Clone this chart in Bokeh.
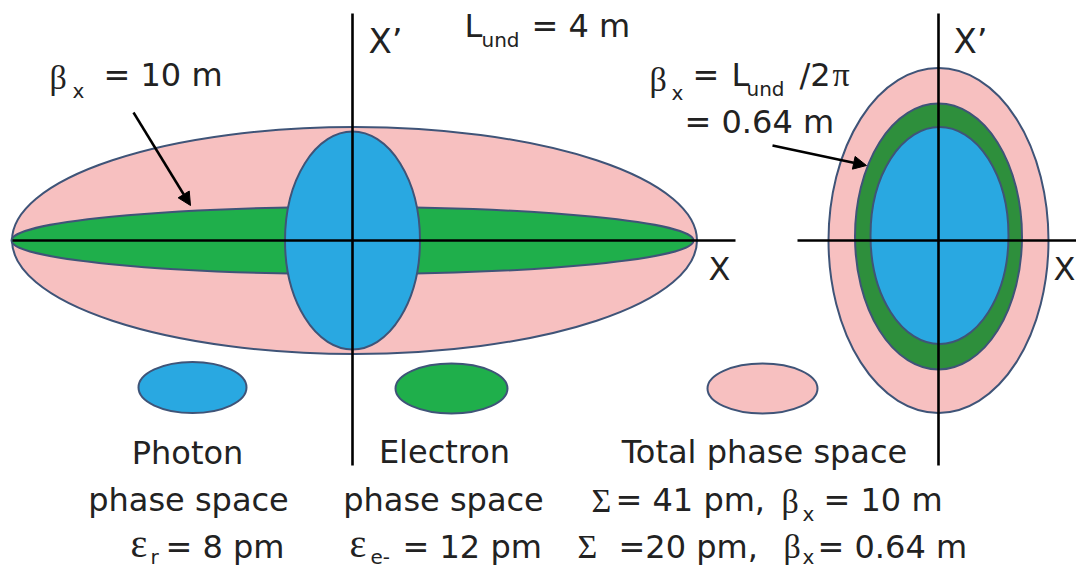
from bokeh.plotting import figure
from bokeh.models import Range1d, Arrow, NormalHead
from bokeh.core.properties import value
from bokeh.embed import file_html
from bokeh.resources import INLINE

H = 575  # reference canvas height (pixel units used as data units)
W_FIG, H_FIG = 1076, 570

# --- phase-space ellipses (reference pixel units) ---
left_names = ["Total phase space", "Electron phase space", "Photon phase space"]
left_cx = [354, 352, 352]
left_cy = [240, 240, 240]
left_w = [685, 682, 135]
left_h = [227, 67, 218]
left_colors = ["#f7c0c0", "#1faf4b", "#29a8e1"]

right_names = ["Total phase space", "Electron phase space", "Photon phase space"]
right_cx = [938, 938, 939]
right_cy = [240, 236, 235]
right_w = [220, 167, 138]
right_h = [345, 266, 217]
right_colors = ["#f7c0c0", "#2e8f3c", "#29a8e1"]

key_names = ["Photon", "Electron", "Total"]
key_cx = [192, 451, 762]
key_cy = [387, 388, 388]
key_w = [108, 112, 110]
key_h = [51, 50, 50]
key_colors = ["#29a8e1", "#1faf4b", "#f7c0c0"]

OUTLINE = "#3f5478"
INK = "#222222"
SANS = "DejaVu Sans"
SERIF = "Liberation Serif"
BASE_FIX = 0.44  # em shift compensating the svg text baseline

p = figure(width=W_FIG, height=H_FIG,
           x_range=Range1d(0, W_FIG), y_range=Range1d(H - H_FIG, H),
           x_axis_type=None, y_axis_type=None,
           output_backend="svg", toolbar_location=None, min_border=0)
p.grid.visible = False
p.outline_line_color = None
p.background_fill_color = "white"
p.border_fill_color = "white"

def ellipses(cx, cy, w, h, colors):
    p.ellipse(x=cx, y=[H - v for v in cy], width=w, height=h,
              fill_color=colors, line_color=OUTLINE, line_width=2)

ellipses(left_cx, left_cy, left_w, left_h, left_colors)
ellipses(right_cx, right_cy, right_w, right_h, right_colors)
ellipses(key_cx, key_cy, key_w, key_h, key_colors)

# axes of the phase-space diagrams
def seg(x0, y0, x1, y1, w=2.6):
    p.line([x0, x1], [H - y0, H - y1], line_color="black", line_width=w)

seg(12, 240, 735, 240)
seg(352, 13, 352, 465)
seg(797, 240, 1076, 240)
seg(938, 13, 938, 465)

# arrows
for xs, ys, xe, ye in [(133, 112, 190, 205), (772, 145, 866, 165)]:
    p.add_layout(Arrow(x_start=xs, y_start=H - ys, x_end=xe, y_end=H - ye,
                       line_width=2.5, line_color="black",
                       end=NormalHead(size=13, fill_color="black", line_color="black")))

def t(x, y, s, size=32, font=SANS, align="left"):
    p.text(x=[x], y=[H - (y - BASE_FIX * size)], text=[s], text_font=value(font),
           text_font_size=value(f"{size}px"), text_color=INK,
           text_align=align, text_baseline="alphabetic")

SUB = 20
# top texts
t(368, 55, "X\u2019", 34)
t(953, 55, "X\u2019", 34)
t(464, 40, "L")
t(481, 48, "und", SUB)
t(531, 40, "= 4 m")
t(708, 283, "X", 32)
t(1053, 283, "X", 32)

# beta = 10 m (left)
t(49, 92, "\u03b2", 34, SERIF)
t(72, 99, "x", SUB)
t(103, 89, "= 10 m")

# beta = Lund/2pi (right)
t(649, 94, "\u03b2", 34, SERIF)
t(671, 101, "x", SUB)
t(692, 89, "=")
t(731, 89, "L")
t(746, 97, "und", SUB)
t(799, 89, "/2")
t(832, 89, "\u03c0", 34, SERIF)
t(684, 136, "= 0.64 m")

# bottom labels
t(187, 467, "Photon", align="center")
t(188, 514, "phase space", align="center")
t(130, 561, "\u03b5", 40, SERIF)
t(150, 565, "r", SUB)
t(165, 561, "= 8 pm")

t(444, 466, "Electron", align="center")
t(443, 514, "phase space", align="center")
t(349, 561, "\u03b5", 40, SERIF)
t(370, 565, "e-", SUB)
t(402, 561, "= 12 pm")

t(764, 466, "Total phase space", align="center")
t(591, 515, "\u03a3", 34, SERIF)
t(615, 514, "= 41 pm,")
t(781, 516, "\u03b2", 34, SERIF)
t(802, 522, "x", SUB)
t(823, 514, "= 10 m")
t(577, 561, "\u03a3", 34, SERIF)
t(618, 561, "=20 pm,")
t(783, 561, "\u03b2", 34, SERIF)
t(802, 565, "x", SUB)
t(817, 561, "= 0.64 m")

open("out.html", "w").write(file_html(p, INLINE))
